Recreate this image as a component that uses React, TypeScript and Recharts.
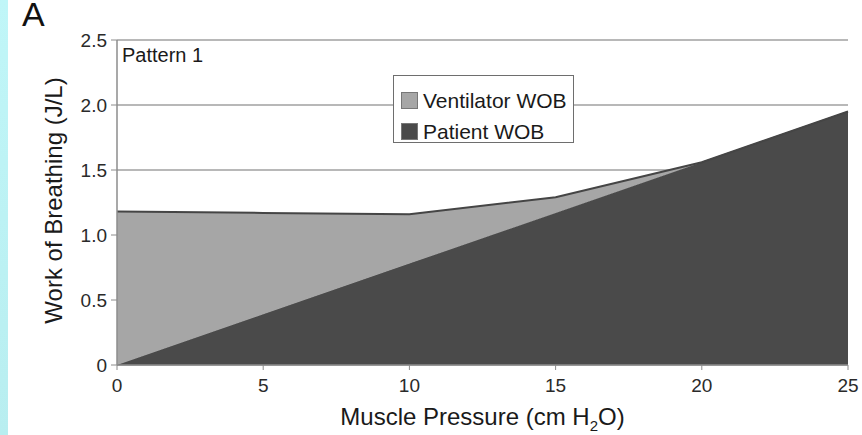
import React from "react";
import { AreaChart, Area, XAxis, YAxis, CartesianGrid, Legend } from "recharts";

// muscle pressure (cm H2O) and work of breathing split (J/L)
const pressure = [0, 5, 10, 15, 20, 25];
const patientWob = [0, 0.39, 0.78, 1.17, 1.56, 1.95];
const ventilatorWob = [1.18, 0.78, 0.38, 0.12, 0, 0];

const xTicks = [0, 5, 10, 15, 20, 25];
const yTicks = [0, 0.5, 1, 1.5, 2, 2.5];

const data = pressure.map((p, i) => ({
  pressure: p,
  patient: patientWob[i],
  ventilator: ventilatorWob[i],
}));

const FONT = '"Liberation Sans", Arial, Helvetica, sans-serif';
const VENT_FILL = "#a6a6a6";
const PATIENT_FILL = "#4a4a4a";
const AXIS_GRAY = "#8c8c8c";

const WobLegend = () => (
  <div
    style={{
      boxSizing: "border-box",
      width: 181,
      height: 68,
      border: "1.5px solid #6e6e6e",
      background: "#fff",
      paddingTop: 9,
      paddingLeft: 7,
      fontFamily: FONT,
      fontSize: 21,
      color: "#1a1a1a",
    }}
  >
    {[
      { name: "Ventilator WOB", color: VENT_FILL },
      { name: "Patient WOB", color: PATIENT_FILL },
    ].map((item) => (
      <div
        key={item.name}
        style={{ display: "flex", alignItems: "center", height: 31, whiteSpace: "nowrap" }}
      >
        <span
          style={{
            display: "inline-block",
            width: 15,
            height: 15,
            background: item.color,
            border: "1px solid #777",
            marginRight: 5,
          }}
        />
        {item.name}
      </div>
    ))}
  </div>
);

const YLabel = (props: any) => {
  const vb = props.viewBox || { x: 0, y: 40, width: 117, height: 325 };
  const x = vb.x + 62;
  const y = vb.y + vb.height / 2 - 2;
  return (
    <text
      x={x}
      y={y}
      transform={`rotate(-90, ${x}, ${y})`}
      textAnchor="middle"
      fontFamily={FONT}
      fontSize={24}
      fill="#1a1a1a"
    >
      Work of Breathing (J/L)
    </text>
  );
};

const XLabel = (props: any) => {
  const vb = props.viewBox || { x: 117, y: 365, width: 731, height: 70 };
  return (
    <text
      x={vb.x + vb.width / 2}
      y={vb.y + 60}
      textAnchor="middle"
      fontFamily={FONT}
      fontSize={24}
      fill="#1a1a1a"
    >
      Muscle Pressure (cm H
      <tspan fontSize={15} dy={6}>2</tspan>
      <tspan dy={-6}>O)</tspan>
    </text>
  );
};

export default function App() {
  return (
    <div
      style={{
        position: "absolute",
        left: 0,
        top: 0,
        width: 862,
        height: 435,
        background: "#fff",
        overflow: "hidden",
        fontFamily: FONT,
      }}
    >
      <div
        style={{
          position: "absolute",
          left: 0,
          top: 0,
          width: 8,
          height: 435,
          background: "linear-gradient(to bottom, #c0f6f8, #b8eef0)",
        }}
      />
      <AreaChart
        width={862}
        height={435}
        data={data}
        margin={{ top: 40, right: 14, bottom: 0, left: 0 }}
      >
        <CartesianGrid horizontal vertical={false} stroke="#a0a0a0" strokeWidth={1.5} />
        <XAxis
          dataKey="pressure"
          type="number"
          domain={[0, 25]}
          ticks={xTicks}
          height={70}
          tickSize={5}
          tickMargin={9}
          axisLine={{ stroke: AXIS_GRAY, strokeWidth: 1.5 }}
          tickLine={{ stroke: AXIS_GRAY }}
          tick={{ fill: "#2a2a2a", fontSize: 19, fontFamily: FONT }}
          label={<XLabel />}
        />
        <YAxis
          type="number"
          domain={[0, 2.5]}
          ticks={yTicks}
          width={117}
          tickSize={6}
          tickMargin={4}
          axisLine={{ stroke: AXIS_GRAY, strokeWidth: 1.5 }}
          tickLine={{ stroke: AXIS_GRAY }}
          tick={{ fill: "#2a2a2a", fontSize: 19, fontFamily: FONT }}
          tickFormatter={(v: number) => (v === 0 ? "0" : v.toFixed(1))}
          label={<YLabel />}
        />
        <Legend
          layout="vertical"
          align="center"
          verticalAlign="middle"
          content={<WobLegend />}
          wrapperStyle={{ left: 393, top: 75, width: 181, height: 68 }}
        />
        <Area
          type="linear"
          dataKey="patient"
          stackId="wob"
          fill={PATIENT_FILL}
          fillOpacity={1}
          stroke={PATIENT_FILL}
          strokeWidth={1}
          dot={false}
          activeDot={false}
          isAnimationActive={false}
        />
        <Area
          type="linear"
          dataKey="ventilator"
          stackId="wob"
          fill={VENT_FILL}
          fillOpacity={1}
          stroke="#454545"
          strokeWidth={2}
          dot={false}
          activeDot={false}
          isAnimationActive={false}
        />
      </AreaChart>
      <svg
        width={862}
        height={435}
        style={{ position: "absolute", left: 0, top: 0, pointerEvents: "none" }}
      >
        <text x={22} y={26} fontFamily={FONT} fontSize={34} fill="#111">
          A
        </text>
        <text x={122} y={62} fontFamily={FONT} fontSize={20} fill="#1a1a1a">
          Pattern 1
        </text>
      </svg>
    </div>
  );
}
